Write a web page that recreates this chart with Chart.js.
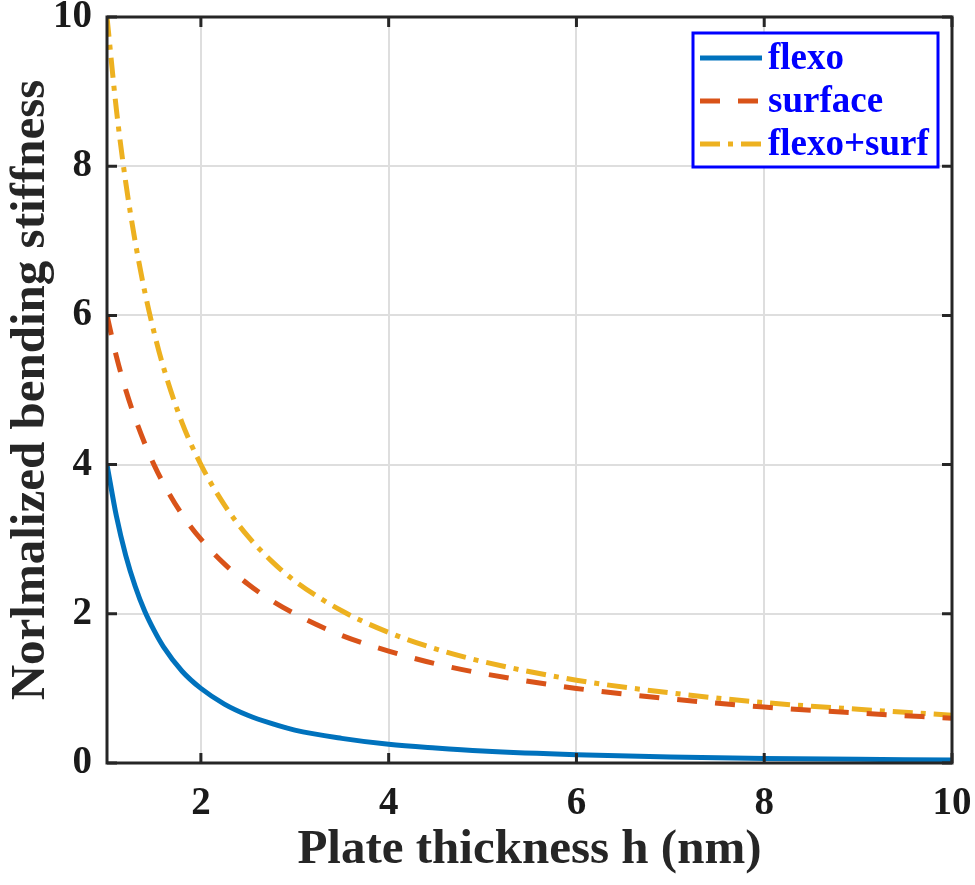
<!DOCTYPE html>
<html>
<head>
<meta charset="utf-8">
<script src="https://cdn.jsdelivr.net/npm/chart.js@4/dist/chart.umd.min.js"></script>
<style>
  html, body { margin: 0; padding: 0; background: #fff; }
  #wrap { width: 975px; height: 885px; }
</style>
</head>
<body>
<div id="wrap"><canvas id="myChart" width="975" height="885"></canvas></div>
<script>
// values
const thickness = [1, 1.1, 1.2, 1.3, 1.4, 1.5, 1.6, 1.8, 2, 2.25, 2.5, 2.75, 3, 3.5, 4, 4.5, 5, 6, 7, 8, 9, 10]
const flexo = [4, 3.31, 2.78, 2.37, 2.04, 1.78, 1.56, 1.23, 1.0, 0.79, 0.64, 0.53, 0.44, 0.33, 0.25, 0.2, 0.16, 0.11, 0.08, 0.06, 0.05, 0.04]
const surface = [6, 5.45, 5.0, 4.62, 4.29, 4.0, 3.75, 3.33, 3.0, 2.67, 2.4, 2.18, 2.0, 1.71, 1.5, 1.33, 1.2, 1.0, 0.86, 0.75, 0.67, 0.6]
const flexoSurf = [10, 8.76, 7.78, 6.99, 6.33, 5.78, 5.31, 4.56, 4.0, 3.46, 3.04, 2.71, 2.44, 2.04, 1.75, 1.53, 1.36, 1.11, 0.94, 0.81, 0.72, 0.64]
const xTicks = [2, 4, 6, 8, 10]
const yTicks = [0, 2, 4, 6, 8, 10]
const seriesNames = ['flexo', 'surface', 'flexo+surf']

const serif = "'Liberation Serif', 'Times New Roman', serif"

const toPoints = (ys) => thickness.map((h, i) => ({x: h, y: ys[i]}))

// box, inward ticks and the boxed legend
const boxPlugin = {
  id: 'box',
  afterDatasetsDraw(chart) {
    const {ctx, chartArea: a, scales} = chart
    ctx.save()
    ctx.strokeStyle = '#262626'
    ctx.lineWidth = 3
    ctx.beginPath()
    xTicks.forEach(v => {
      const px = scales.x.getPixelForValue(v)
      ctx.moveTo(px, a.bottom); ctx.lineTo(px, a.bottom - 10)
      ctx.moveTo(px, a.top); ctx.lineTo(px, a.top + 10)
    })
    yTicks.forEach(v => {
      const py = scales.y.getPixelForValue(v)
      ctx.moveTo(a.left, py); ctx.lineTo(a.left + 10, py)
      ctx.moveTo(a.right, py); ctx.lineTo(a.right - 10, py)
    })
    ctx.stroke()
    ctx.strokeRect(a.left, a.top, a.right - a.left, a.bottom - a.top)

    // legend
    const lx = 693, ly = 33, lw = 245, lh = 134
    ctx.fillStyle = '#fff'
    ctx.fillRect(lx, ly, lw, lh)
    ctx.strokeStyle = '#0000ff'
    ctx.lineWidth = 3
    ctx.strokeRect(lx, ly, lw, lh)
    ctx.font = 'bold 37px ' + serif
    ctx.textBaseline = 'middle'
    chart.data.datasets.forEach((ds, i) => {
      const y = ly + 25 + i * 43
      ctx.strokeStyle = ds.borderColor
      ctx.lineWidth = 5
      ctx.setLineDash(ds.borderDash || [])
      ctx.beginPath()
      ctx.moveTo(lx + 7, y); ctx.lineTo(lx + 69, y)
      ctx.stroke()
      ctx.setLineDash([])
      ctx.fillStyle = '#0000ff'
      ctx.fillText(ds.label, lx + 75, y + 1)
    })
    ctx.restore()
  }
}

const ctx = document.getElementById('myChart')

const chart = new Chart(ctx, {
  type: 'line',
  data: {
    datasets: [{
      label: seriesNames[0],
      data: toPoints(flexo),
      borderColor: '#0072BD',
      borderWidth: 5,
      cubicInterpolationMode: 'monotone'
    }, {
      label: seriesNames[1],
      data: toPoints(surface),
      borderColor: '#D95319',
      borderWidth: 5,
      borderDash: [20, 18],
      cubicInterpolationMode: 'monotone'
    }, {
      label: seriesNames[2],
      data: toPoints(flexoSurf),
      borderColor: '#EDB120',
      borderWidth: 5,
      borderDash: [20, 8, 5, 8],
      cubicInterpolationMode: 'monotone'
    }]
  },
  plugins: [boxPlugin],
  options: {
    responsive: false,
    animation: false,
    devicePixelRatio: 1,
    elements: { point: { radius: 0 } },
    layout: { padding: { top: 17, right: 23, left: 0, bottom: 0 } },
    plugins: { legend: { display: false }, tooltip: { enabled: false } },
    scales: {
      x: {
        type: 'linear',
        min: 1,
        max: 10,
        afterBuildTicks: s => { s.ticks = xTicks.map(v => ({value: v})) },
        afterFit: s => { s.height = 122; s.paddingRight = 0; s.paddingLeft = 0 },
        grid: { color: '#dedede', lineWidth: 2, drawTicks: false },
        border: { display: false },
        ticks: {
          padding: 18,
          color: '#1a1a1a',
          font: { family: serif, size: 39, weight: 'bold' },
          maxRotation: 0
        },
        title: {
          display: true,
          text: 'Plate thickness h (nm)',
          color: '#262626',
          font: { family: serif, size: 49, weight: 'bold', lineHeight: 1.2 },
          padding: { top: 0, bottom: 5 }
        }
      },
      y: {
        min: 0,
        max: 10,
        afterBuildTicks: s => { s.ticks = yTicks.map(v => ({value: v})) },
        afterFit: s => { s.width = 107; s.paddingTop = 0; s.paddingBottom = 0 },
        grid: { color: '#dedede', lineWidth: 2, drawTicks: false },
        border: { display: false },
        ticks: {
          padding: 15,
          color: '#1a1a1a',
          font: { family: serif, size: 39, weight: 'bold' }
        },
        title: {
          display: true,
          text: 'Norlmalized bending stiffness',
          color: '#262626',
          font: { family: serif, size: 49, weight: 'bold', lineHeight: 1.2 },
          padding: { top: 2, bottom: 0 }
        }
      }
    }
  }
});
</script>
</body>
</html>
